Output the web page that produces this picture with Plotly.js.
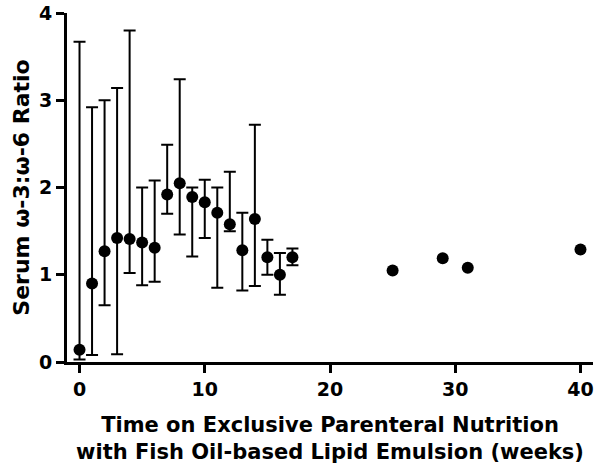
<!DOCTYPE html>
<html>
<head>
<meta charset="utf-8">
<script src="https://cdn.plot.ly/plotly-3.0.1.min.js"></script>
<style>html,body{margin:0;padding:0;background:#fff;}#chart{width:600px;height:469px;}</style>
</head>
<body>
<div id="chart"></div>
<script>
// Weekly measurements (mean with upper / lower error bounds)
const weeks = [0, 1, 2, 3, 4, 5, 6, 7, 8, 9, 10, 11, 12, 13, 14, 15, 16, 17];
const ratioMean = [0.14, 0.90, 1.27, 1.42, 1.41, 1.37, 1.31, 1.92, 2.05, 1.89, 1.83, 1.71, 1.58, 1.28, 1.64, 1.20, 1.00, 1.20];
const ratioUpper = [3.67, 2.92, 3.00, 3.14, 3.80, 2.00, 2.08, 2.49, 3.24, 2.00, 2.09, 2.00, 2.18, 1.71, 2.72, 1.40, 1.25, 1.30];
const ratioLower = [0.03, 0.08, 0.65, 0.09, 1.02, 0.88, 0.92, 1.70, 1.46, 1.21, 1.42, 0.85, 1.50, 0.82, 0.87, 1.00, 0.77, 1.11];
// Single measurements at later weeks
const lateWeeks = [25, 29, 31, 40];
const lateRatio = [1.05, 1.19, 1.08, 1.29];
const xTicks = [0, 10, 20, 30, 40];
const yTicks = [0, 1, 2, 3, 4];

const fontFam = '"DejaVu Sans", Arial, sans-serif';

const traces = [
  {
    x: weeks, y: ratioMean, type: 'scatter', mode: 'markers',
    marker: {color: '#000', size: 12},
    error_y: {
      type: 'data', symmetric: false,
      array: ratioUpper.map((u, i) => u - ratioMean[i]),
      arrayminus: ratioLower.map((l, i) => ratioMean[i] - l),
      color: '#000', thickness: 2, width: 6
    },
    hoverinfo: 'skip', showlegend: false
  },
  {
    x: lateWeeks, y: lateRatio, type: 'scatter', mode: 'markers',
    marker: {color: '#000', size: 12},
    hoverinfo: 'skip', showlegend: false
  }
];

const layout = {
  width: 600, height: 469,
  margin: {l: 67, r: 7, t: 13, b: 107},
  paper_bgcolor: '#fff', plot_bgcolor: '#fff',
  showlegend: false,
  xaxis: {
    range: [-1, 41], tickvals: xTicks, ticktext: xTicks.map(String),
    showgrid: false, zeroline: false, showline: true, linecolor: '#000', linewidth: 3,
    ticks: 'outside', ticklen: 8, tickwidth: 3, tickcolor: '#000',
    tickfont: {family: fontFam, size: 19, color: '#000', weight: 'bold'},
    title: {text: 'Time on Exclusive Parenteral Nutrition<br>with Fish Oil-based Lipid Emulsion (weeks)',
      font: {family: fontFam, size: 21, color: '#000', weight: 'bold'}, standoff: 19},
    automargin: false
  },
  yaxis: {
    range: [0, 4], tickvals: yTicks, ticktext: yTicks.map(String),
    showgrid: false, zeroline: false, showline: true, linecolor: '#000', linewidth: 3,
    ticks: 'outside', ticklen: 8, tickwidth: 3, tickcolor: '#000',
    tickfont: {family: fontFam, size: 19, color: '#000', weight: 'bold'},
    title: {text: 'Serum ω-3:ω-6 Ratio',
      font: {family: fontFam, size: 22, color: '#000', weight: 'bold'}, standoff: 4},
    automargin: false
  }
};

Plotly.newPlot('chart', traces, layout, {staticPlot: true, displayModeBar: false});
</script>
</body>
</html>
